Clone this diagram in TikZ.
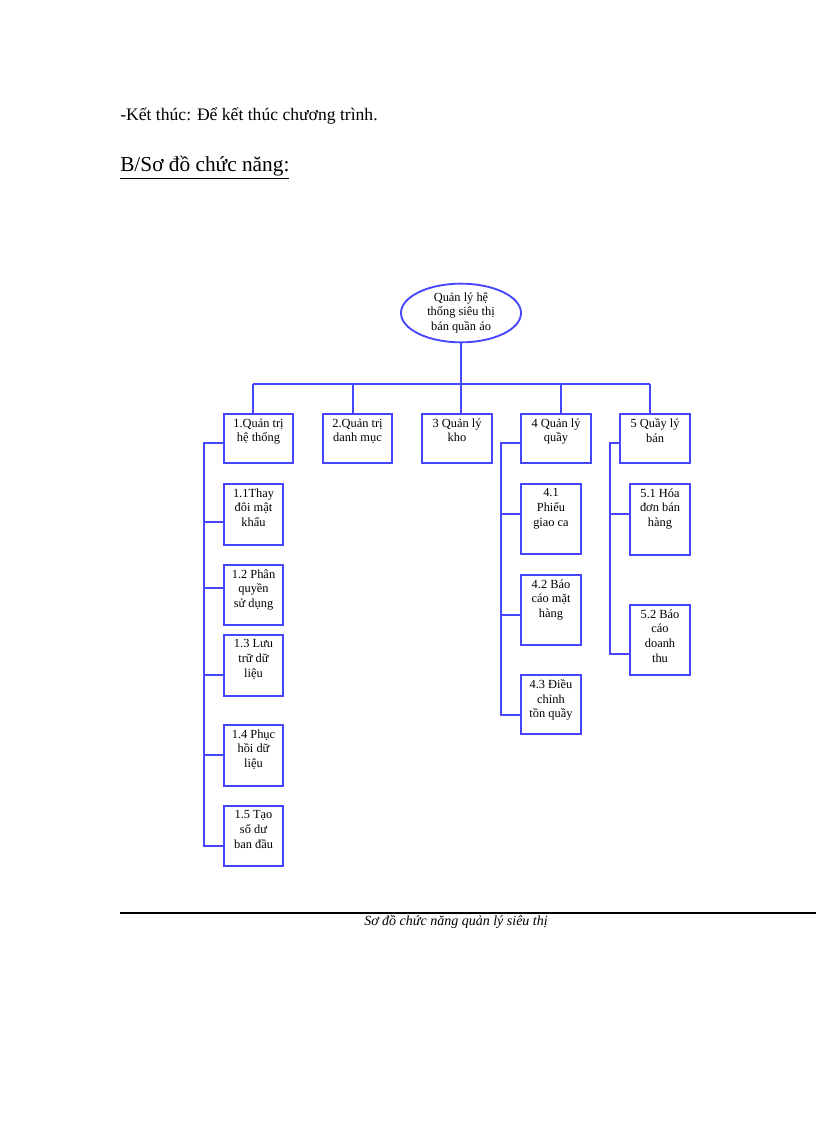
\documentclass[tikz,border=0pt]{standalone}
\usepackage{fontspec}
\setmainfont{Liberation Serif}
\usetikzlibrary{shapes.geometric}
\definecolor{bl}{RGB}{70,70,255}
\newcommand{\bx}[6]{%
  \node[boxst,minimum width={(#4-#2)*0.75pt},minimum height={(#5-#3)*0.75pt}] (#1) at ({(#2+#4)/2},{(#3+#5)/2}) {};
  \node[boxtxt,anchor=north] (#1t) at ([yshift=-3pt]#1.north) {#6};}
\begin{document}
\begin{tikzpicture}[x=0.75pt,y=-0.75pt,
  boxst/.style={draw=bl,line width=1.4pt,inner sep=0pt},
  boxtxt/.style={font=\fontsize{9.3}{11}\selectfont,align=center,inner sep=1pt},
  conn/.style={draw=bl,line width=1.4pt}]
\useasboundingbox (0,0) rectangle (816,1123);
\node[anchor=base west,font=\fontsize{13.2}{16}\selectfont,inner sep=0] (t1) at (120,121) {-Kết thúc: Để kết thúc chương trình.};
\node[anchor=base west,font=\fontsize{16}{19}\selectfont,inner sep=0] (t2) at (120,172) {\underline{B/Sơ đồ chức năng:}};
\node[ellipse,draw=bl,line width=1.4pt,minimum width=90pt,minimum height=44pt,inner sep=0pt,
  font=\fontsize{9.3}{11}\selectfont,align=center] (root) at (461,313) {Quản lý hệ\\thống siêu thị\\bán quần áo};
\bx{b1}{224}{414}{293}{463}{1.Quản trị\\hệ thống}
\bx{b2}{323}{414}{392}{463}{2.Quản trị\\danh mục}
\bx{b3}{422}{414}{492}{463}{3 Quản lý\\kho}
\bx{b4}{521}{414}{591}{463}{4 Quản lý\\quầy}
\bx{b5}{620}{414}{690}{463}{5 Quầy lý\\bán}
\bx{c11}{224}{484}{283}{545}{1.1Thay\\đôi mật\\khẩu}
\bx{c12}{224}{565}{283}{625}{1.2 Phân\\quyền\\sử dụng}
\bx{c13}{224}{635}{283}{696}{1.3 Lưu\\trữ dữ\\liệu}
\bx{c14}{224}{725}{283}{786}{1.4 Phục\\hồi dữ\\liệu}
\bx{c15}{224}{806}{283}{866}{1.5 Tạo\\số dư\\ban đầu}
\bx{c41}{521}{484}{581}{554}{4.1\\Phiếu\\giao ca}
\bx{c42}{521}{575}{581}{645}{4.2 Báo\\cáo mặt\\hàng}
\bx{c43}{521}{675}{581}{734}{4.3 Điều\\chỉnh\\tồn quầy}
\bx{c51}{630}{484}{690}{555}{5.1 Hóa\\đơn bán\\hàng}
\bx{c52}{630}{605}{690}{675}{5.2 Báo\\cáo\\doanh\\thu}
\coordinate (bus) at (461,384);
\draw[conn] (root.south) -- (bus);
\draw[conn] (253,384) -- (650,384);
\draw[conn] (253,384) -- (253,414);
\draw[conn] (353,384) -- (353,414);
\draw[conn] (bus) -- (bus |- b3.north);
\draw[conn] (561,384) -- (561,414);
\draw[conn] (650,384) -- (650,414);
% branch 1
\draw[conn] (b1.west |- 0,443) -- (204,443) -- (204,846) -- (c15.west |- 0,846);
\foreach \n/\y in {c11/522,c12/588,c13/675,c14/755}{\draw[conn] (204,\y) -- (\n.west |- 0,\y);}
% branch 4
\draw[conn] (b4.west |- 0,443) -- (501,443) -- (501,715) -- (c43.west |- 0,715);
\foreach \n/\y in {c41/514,c42/615}{\draw[conn] (501,\y) -- (\n.west |- 0,\y);}
% branch 5
\draw[conn] (b5.west |- 0,443) -- (610,443) -- (610,654) -- (c52.west |- 0,654);
\draw[conn] (610,514) -- (c51.west |- 0,514);
\draw[line width=0.8pt] (120,913) -- (816,913);
\node[font=\itshape\fontsize{10.5}{12}\selectfont,anchor=base,inner sep=0] (cap) at (456,925) {Sơ đồ chức năng quản lý siêu thị};
\end{tikzpicture}
\end{document}
